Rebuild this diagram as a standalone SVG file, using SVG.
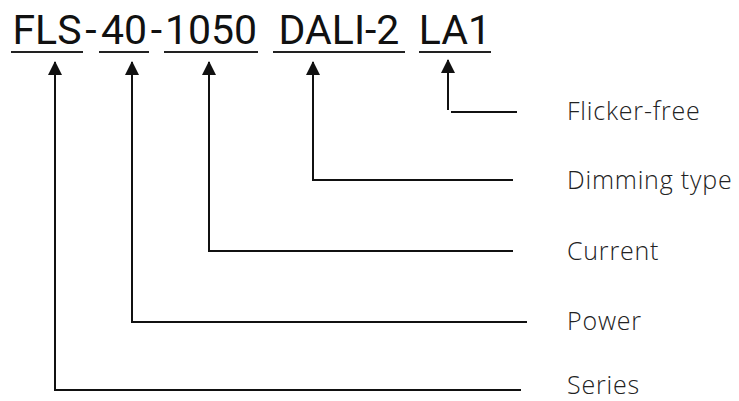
<svg xmlns="http://www.w3.org/2000/svg" width="739" height="401" viewBox="0 0 739 401">
<defs>
<style>
.title{font-family:Roboto,"Liberation Sans",sans-serif;font-weight:400;font-size:41px;fill:#111;text-anchor:middle}
.label{font-family:"Open Sans","Liberation Sans",sans-serif;font-weight:300;font-size:25px;letter-spacing:0.8px;fill:#222}
.ul{stroke:#222;stroke-width:2;fill:none}
.conn{stroke:#111;stroke-width:2;fill:none}
</style>
<marker id="arr" viewBox="0 0 14 14" refX="13" refY="7" markerWidth="14" markerHeight="14" markerUnits="userSpaceOnUse" orient="auto">
<path d="M0,0 L14,7 L0,14 z" fill="#111"/>
</marker>
</defs>
<rect width="739" height="401" fill="#fff"/>
<g id="code">
<text class="title" x="47" y="44">FLS</text>
<text class="title" x="91" y="44">-</text>
<text class="title" x="124" y="44">40</text>
<text class="title" x="156.5" y="44">-</text>
<text class="title" x="211" y="44">1050</text>
<text class="title" x="339" y="44">DALI-2</text>
<text class="title" x="455" y="44">LA1</text>
<path class="ul" d="M11 52H83M99 52H149M164 52H258M273 52H405M419 52H491"/>
</g>
<g id="connectors">
<path class="conn" d="M521 390H55V62" marker-end="url(#arr)"/>
<path class="conn" d="M527 322H132V62" marker-end="url(#arr)"/>
<path class="conn" d="M513 251H209V62" marker-end="url(#arr)"/>
<path class="conn" d="M513 180H313V62" marker-end="url(#arr)"/>
<path class="conn" d="M517 112H451"/>
<path class="conn" d="M448 110V60" marker-end="url(#arr)"/>
</g>
<g id="label-flicker"><text class="label" x="567" y="120">Flicker-free</text></g>
<g id="label-dimming"><text class="label" x="567" y="189">Dimming type</text></g>
<g id="label-current"><text class="label" x="567" y="260">Current</text></g>
<g id="label-power"><text class="label" x="567" y="330">Power</text></g>
<g id="label-series"><text class="label" x="567" y="394">Series</text></g>
</svg>
